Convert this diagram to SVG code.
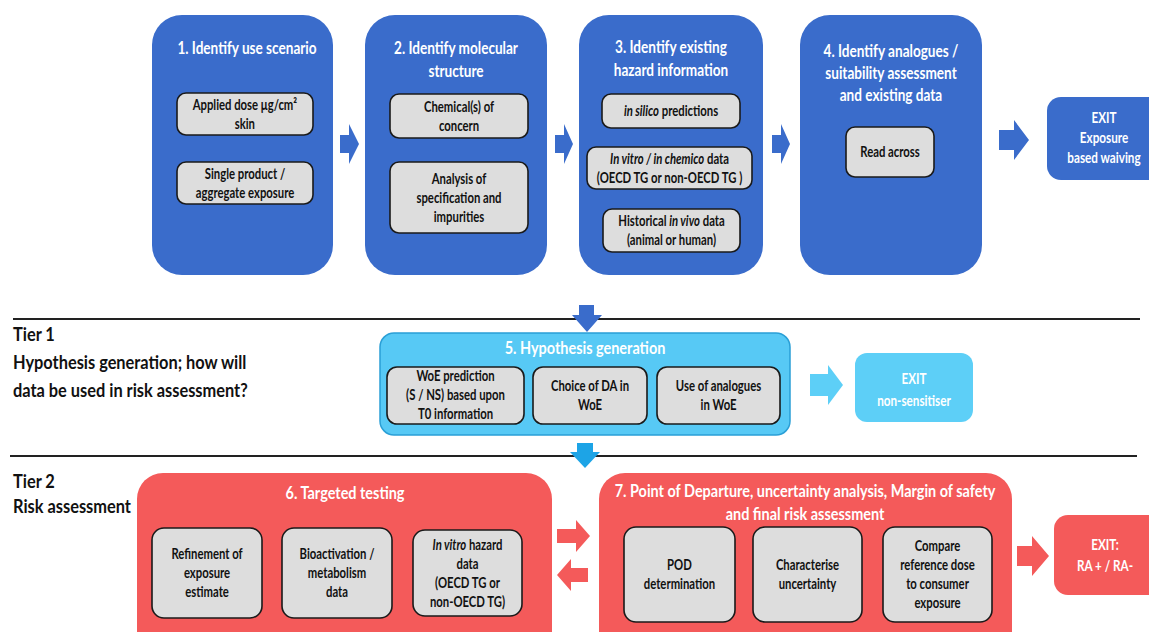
<svg xmlns="http://www.w3.org/2000/svg" width="1149" height="632" viewBox="0 0 1149 632">
<style>
text{font-family:Lato,"Open Sans",sans-serif;font-weight:700;text-anchor:middle;transform-box:fill-box;transform-origin:center;transform:scaleX(0.78)}
.h{font-size:17px;fill:#fff;transform:scaleX(0.8)}
.h2{font-size:17px;fill:#fff;transform:scaleX(0.85)}
.i{font-size:14.5px;fill:#111}
.x{font-size:15px;fill:#fff}
.tier{font-size:18px;fill:#111;text-anchor:start;transform-origin:left center;transform:scaleX(0.91)}
.bm{fill:#3a6ccb}
.lb{fill:#57c9f5;stroke:#2a9fd6;stroke-width:1.5}
.rd{fill:#f45a5a}
.g{fill:#dddddd;stroke:#1a1a1a;stroke-width:1.6}
.it{font-style:italic}
.sep{stroke:#222;stroke-width:2.2}
</style>
<rect width="1149" height="632" fill="#fff"/>
<g id="n1">
<rect class="bm" x="152" y="15" width="181" height="260" rx="30"/>
<text class="h" x="247" y="54">1. Identify use scenario</text>
<rect class="g" x="177" y="93" width="136" height="42" rx="9"/>
<text class="i" x="245"><tspan x="245" y="110">Applied dose μg/cm²</tspan><tspan x="245" y="129">skin</tspan></text>
<rect class="g" x="177" y="162" width="136" height="42" rx="9"/>
<text class="i" x="245"><tspan x="245" y="179">Single product  /</tspan><tspan x="245" y="198">aggregate exposure</tspan></text>
</g>
<g id="n2">
<rect class="bm" x="365" y="15" width="182" height="260" rx="30"/>
<text class="h" x="456"><tspan x="456" y="54">2. Identify molecular</tspan><tspan x="456" y="77">structure</tspan></text>
<rect class="g" x="390" y="94" width="138" height="44" rx="9"/>
<text class="i" x="459"><tspan x="459" y="112">Chemical(s) of</tspan><tspan x="459" y="131">concern</tspan></text>
<rect class="g" x="390" y="162" width="138" height="71" rx="9"/>
<text class="i" x="459"><tspan x="459" y="184">Analysis of</tspan><tspan x="459" y="203">specification and</tspan><tspan x="459" y="222">impurities</tspan></text>
</g>
<g id="n3">
<rect class="bm" x="579" y="15" width="184" height="260" rx="30"/>
<text class="h" x="671"><tspan x="671" y="53">3. Identify existing</tspan><tspan x="671" y="76">hazard information</tspan></text>
<rect class="g" x="602" y="94" width="138" height="34" rx="9"/>
<text class="i" x="671" y="116"><tspan class="it">in silico</tspan> predictions</text>
<rect class="g" x="587" y="147" width="165" height="42" rx="9"/>
<text class="i" x="669.5"><tspan x="669.5" y="164"><tspan class="it">In vitro / in chemico</tspan> data</tspan><tspan x="669.5" y="183">(OECD TG or non-OECD TG )</tspan></text>
<rect class="g" x="603" y="209" width="137" height="43" rx="9"/>
<text class="i" x="671.5"><tspan x="671.5" y="226">Historical <tspan class="it">in vivo</tspan> data</tspan><tspan x="671.5" y="245">(animal or human)</tspan></text>
</g>
<g id="n4">
<rect class="bm" x="800" y="15" width="182" height="260" rx="30"/>
<text class="h" x="891"><tspan x="891" y="57">4. Identify analogues /</tspan><tspan x="891" y="79">suitability assessment</tspan><tspan x="891" y="101">and existing  data</tspan></text>
<rect class="g" x="846" y="127" width="88" height="50" rx="9"/>
<text class="i" x="890" y="157">Read across</text>
</g>
<g id="exit1">
<rect class="bm" x="1047" y="97" width="120" height="83" rx="14"/>
<text class="x" x="1104"><tspan x="1104" y="123">EXIT</tspan><tspan x="1104" y="143">Exposure</tspan><tspan x="1104" y="163">based waiving</tspan></text>
</g>
<g id="tier1">
<text class="tier" x="13"><tspan x="13" y="341">Tier 1</tspan><tspan x="13" y="369">Hypothesis generation; how will</tspan><tspan x="13" y="397">data be used in risk assessment?</tspan></text>
</g>
<g id="tier2">
<text class="tier" x="13"><tspan x="13" y="488">Tier 2</tspan><tspan x="13" y="513">Risk assessment</tspan></text>
</g>
<g id="separators">
<line class="sep" x1="13" y1="319" x2="1140" y2="319"/>
<line class="sep" x1="10" y1="456" x2="1137" y2="456"/>
</g>
<g id="n5">
<rect class="lb" x="380" y="333" width="410" height="102" rx="14"/>
<text class="h2" x="585" y="354">5. Hypothesis generation</text>
<rect class="g" x="387" y="367" width="137" height="57" rx="10"/>
<text class="i" x="455.5"><tspan x="455.5" y="381">WoE  prediction</tspan><tspan x="455.5" y="400">(S / NS) based upon</tspan><tspan x="455.5" y="419">T0 information</tspan></text>
<rect class="g" x="533" y="367" width="114" height="57" rx="10"/>
<text class="i" x="590"><tspan x="590" y="391">Choice of DA in</tspan><tspan x="590" y="410">WoE</tspan></text>
<rect class="g" x="657" y="367" width="123" height="57" rx="10"/>
<text class="i" x="718.5"><tspan x="718.5" y="391">Use of analogues</tspan><tspan x="718.5" y="410">in WoE</tspan></text>
</g>
<g id="exit2">
<rect x="855" y="353" width="118" height="69" rx="12" fill="#5dcff7"/>
<text class="x" x="914"><tspan x="914" y="384">EXIT</tspan><tspan x="914" y="406">non-sensitiser</tspan></text>
</g>
<g id="n6">
<rect class="rd" x="137" y="473" width="415" height="190" rx="26"/>
<text class="h2" x="345" y="499">6. Targeted testing</text>
<rect class="g" x="152" y="528" width="110" height="90" rx="12"/>
<text class="i" x="207"><tspan x="207" y="559">Refinement of</tspan><tspan x="207" y="578">exposure</tspan><tspan x="207" y="597">estimate</tspan></text>
<rect class="g" x="282" y="528" width="110" height="90" rx="12"/>
<text class="i" x="337"><tspan x="337" y="559">Bioactivation /</tspan><tspan x="337" y="578">metabolism</tspan><tspan x="337" y="597">data</tspan></text>
<rect class="g" x="413" y="530" width="109" height="86" rx="12"/>
<text class="i" x="467.5"><tspan x="467.5" y="550"><tspan class="it">In vitro</tspan> hazard</tspan><tspan x="467.5" y="569">data</tspan><tspan x="467.5" y="588">(OECD TG or</tspan><tspan x="467.5" y="607">non-OECD TG)</tspan></text>
</g>
<g id="n7">
<rect class="rd" x="599" y="473" width="413" height="190" rx="26"/>
<text class="h2" x="805"><tspan x="805" y="497">7. Point of Departure, uncertainty analysis, Margin of safety</tspan><tspan x="805" y="520">and final risk assessment</tspan></text>
<rect class="g" x="624" y="527" width="111" height="95" rx="12"/>
<text class="i" x="679.5"><tspan x="679.5" y="570">POD</tspan><tspan x="679.5" y="589">determination</tspan></text>
<rect class="g" x="753" y="527" width="109" height="95" rx="12"/>
<text class="i" x="807.5"><tspan x="807.5" y="570">Characterise</tspan><tspan x="807.5" y="589">uncertainty</tspan></text>
<rect class="g" x="883" y="527" width="109" height="95" rx="12"/>
<text class="i" x="937.5"><tspan x="937.5" y="551">Compare</tspan><tspan x="937.5" y="570">reference dose</tspan><tspan x="937.5" y="589">to consumer</tspan><tspan x="937.5" y="608">exposure</tspan></text>
</g>
<g id="exit3">
<rect class="rd" x="1054" y="515" width="110" height="80" rx="14"/>
<text class="x" x="1105"><tspan x="1105" y="550">EXIT:</tspan><tspan x="1105" y="571">RA + / RA-</tspan></text>
</g>
<g id="connectors">
<polygon fill="#3a6ccb" points="340,135 349,135 349,124 359,144 349,164 349,153 340,153"/>
<polygon fill="#3a6ccb" points="555,135 564,135 564,124 573,144 564,164 564,153 555,153"/>
<polygon fill="#3a6ccb" points="772,135 781,135 781,124 790,144 781,164 781,153 772,153"/>
<polygon fill="#3a6ccb" points="999,130 1014,130 1014,120 1029,140 1014,160 1014,150 999,150"/>
<polygon fill="#3a6ccb" points="579,305 594,305 594,315 602,315 587,332 572,315 579,315"/>
<polygon fill="#1da4e6" points="577,443 593,443 593,452 600,452 585,468 570,452 577,452"/>
<polygon fill="#5dcff7" points="810,374 828,374 828,365 843,385 828,405 828,396 810,396"/>
<polygon fill="#f45a5a" points="557,529 576,529 576,520 590,536 576,552 576,543 557,543"/>
<polygon fill="#f45a5a" points="588,568 571,568 571,559 557,575 571,591 571,582 588,582"/>
<polygon fill="#f45a5a" points="1017,546 1032,546 1032,536 1049,556 1032,576 1032,566 1017,566"/>
</g>
</svg>
